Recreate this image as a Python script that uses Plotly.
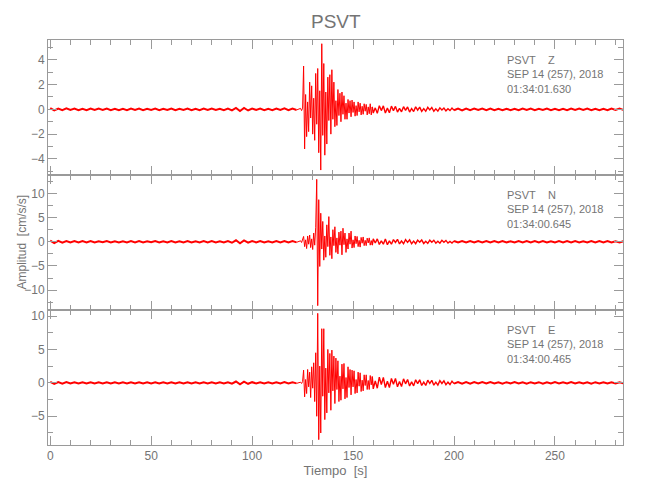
import numpy as np
import plotly.graph_objects as go
from plotly.subplots import make_subplots

# ---------------- data ----------------
title = "PSVT"
components = ["Z", "N", "E"]
dates = ["SEP 14 (257), 2018"] * 3
start_times = ["01:34:01.630", "01:34:00.645", "01:34:00.465"]

# sample times of the four segments (s)
t_pre = np.arange(0, 124, 2)       # quiet before the event
t_evt = np.arange(124, 160, 0.5)   # strong motion
t_coda = np.arange(160, 200, 1)    # coda
t_post = np.arange(200, 285, 2)    # quiet after

# Z component (cm/s/s)
z_pre = [0.1,-0.09,0.07,-0.06,0.08,-0.05,0.06,-0.07,0.05,-0.06,
         0.07,-0.05,0.06,-0.04,0.07,-0.06,0.05,-0.07,0.04,-0.06,
         0.06,-0.05,0.07,-0.06,0.05,-0.04,0.06,-0.07,0.05,-0.05,
         0.07,-0.06,0.04,-0.05,0.06,-0.07,0.05,-0.06,0.07,-0.05,
         0.06,-0.05,0.05,-0.07,0.06,-0.08,0.12,-0.13,0.12,-0.09,
         0.07,-0.05,0.06,-0.07,0.05,-0.06,0.07,-0.05,0.08,-0.07,
         0.06,-0.05]
z_evt = [0.08,-0.1,0.1,3.5,-3.2,1.2,-2.2,0.6,-1.8,2.2,
         -0.7,1.9,-2.0,0.9,-2.5,2.9,-1.2,3.3,-3.5,1.5,
         -4.9,5.3,-2.1,3.7,-3.7,1.4,-2.8,2.6,-0.9,2.8,
         -2.0,3.2,-0.8,2.2,-1.4,0.7,-1.3,1.6,-0.5,1.3,
         -1.0,1.4,-0.4,1.1,-0.8,0.5,-0.8,0.8,-0.3,0.7,
         -0.6,0.75,-0.25,0.6,-0.55,0.3,-0.5,0.6,-0.2,0.5,
         -0.45,0.25,-0.4,0.45,-0.15,0.4,-0.45,0.2,-0.35,0.45,
         -0.45,0.2]
z_coda = [-0.3,0.12,-0.32,0.3,-0.1,0.28,-0.3,0.1,-0.28,0.26,
          -0.1,0.24,-0.22,0.08,-0.2,0.22,-0.08,0.2,-0.22,0.07,
          -0.18,0.2,-0.06,0.18,-0.16,0.06,-0.15,0.16,-0.05,0.15,
          -0.15,0.05,-0.14,0.12,-0.05,0.11,-0.12,0.05,-0.1,0.1]
z_post = [-0.07,0.06,-0.08,0.07,-0.06,0.07,-0.05,0.06,-0.06,0.07,
          -0.06,0.05,-0.07,0.05,-0.06,0.05,-0.07,0.06,-0.05,0.07,
          -0.06,0.05,-0.05,0.06,-0.07,0.05,-0.06,0.05,-0.07,0.06,
          -0.05,0.06,-0.05,0.06,-0.07,0.05,-0.06,0.05,-0.06,0.07,
          -0.05,0.06,-0.05]

# N component
n_pre = [0.25,-0.28,0.2,-0.18,0.16,-0.15,0.13,-0.15,0.14,-0.12,
         0.15,-0.14,0.12,-0.11,0.14,-0.13,0.12,-0.15,0.11,-0.12,
         0.14,-0.12,0.15,-0.13,0.12,-0.11,0.13,-0.15,0.12,-0.12,
         0.15,-0.13,0.11,-0.12,0.14,-0.15,0.12,-0.13,0.15,-0.12,
         0.13,-0.12,0.12,-0.15,0.14,-0.2,0.3,-0.32,0.28,-0.2,
         0.15,-0.12,0.14,-0.15,0.12,-0.14,0.15,-0.12,0.17,-0.15,
         0.14,-0.12]
n_evt = [0.2,-0.15,0.3,1.1,-1.0,0.4,-1.4,1.2,-0.5,1.4,
         -1.2,0.6,-1.6,1.8,-0.7,3.0,12.9,-13.2,8.7,-5.1,
         5.9,-1.5,4.2,-3.8,1.2,-3.2,3.5,-1.0,5.2,-2.8,
         1.0,-3.5,2.5,-0.8,3.1,-2.2,0.8,-2.5,2.0,-0.7,
         2.2,-2.7,2.8,-0.6,1.8,-2.2,0.6,-1.5,1.8,-0.5,
         2.2,-1.3,0.4,-1.2,1.2,-0.4,1.1,-1.0,0.3,-1.1,
         0.9,-0.3,1.0,-0.8,0.3,-0.8,0.75,-0.25,0.8,-0.7,
         0.25,-0.7]
n_coda = [0.6,-0.25,0.6,-0.55,0.2,-0.5,0.55,-0.6,0.2,-0.5,
          0.45,-0.15,0.5,-0.45,0.15,-0.4,0.45,-0.12,0.4,-0.4,
          0.15,-0.4,0.35,-0.1,0.36,-0.35,0.12,-0.33,0.32,-0.1,
          0.32,-0.3,0.1,-0.3,0.3,-0.1,0.28,-0.27,0.08,-0.25]
n_post = [0.15,-0.14,0.16,-0.14,0.13,-0.15,0.14,-0.12,0.15,-0.14,
          0.14,-0.13,0.15,-0.14,0.12,-0.14,0.15,-0.13,0.14,-0.12,
          0.14,-0.15,0.13,-0.14,0.12,-0.14,0.15,-0.13,0.14,-0.12,
          0.14,-0.13,0.12,-0.14,0.15,-0.13,0.14,-0.12,0.14,-0.13,
          0.12,-0.14,0.13]

# E component
e_pre = [0.16,-0.17,0.12,-0.11,0.12,-0.1,0.09,-0.1,0.1,-0.08,
         0.1,-0.09,0.08,-0.08,0.1,-0.09,0.08,-0.1,0.08,-0.09,
         0.1,-0.09,0.1,-0.09,0.08,-0.08,0.09,-0.1,0.08,-0.09,
         0.1,-0.09,0.08,-0.09,0.1,-0.1,0.08,-0.09,0.1,-0.08,
         0.09,-0.08,0.08,-0.1,0.09,-0.13,0.2,-0.22,0.19,-0.14,
         0.1,-0.08,0.09,-0.1,0.08,-0.09,0.1,-0.08,0.11,-0.1,
         0.09,-0.08]
e_evt = [0.1,-0.1,0.2,1.9,-2.1,0.5,-1.6,2.0,-0.6,1.6,
         -2.2,2.4,-0.8,3.0,-2.8,4.5,-5.0,10.4,-8.5,2.5,
         -7.5,8.1,-2.0,8.1,-5.5,2.2,-4.5,5.0,-1.5,4.4,
         -4.1,4.9,-1.2,4.0,-3.1,3.7,-1.0,3.3,-2.8,1.0,
         -2.6,2.8,-0.9,2.9,-2.4,0.8,-2.2,2.4,-0.7,2.0,
         -1.8,1.9,-0.6,1.8,-1.6,0.5,-1.5,1.6,-0.5,1.5,
         -1.3,0.4,-1.2,1.2,-0.4,1.2,-1.0,0.35,-1.0,1.1,
         -0.3,0.95]
e_coda = [-0.9,0.3,-0.8,0.85,-0.25,0.8,-0.7,0.25,-0.7,0.65,
          -0.2,0.65,-0.6,0.2,-0.55,0.6,-0.15,0.5,-0.48,0.15,
          -0.45,0.45,-0.12,0.45,-0.4,0.12,-0.38,0.4,-0.1,0.38,
          -0.35,0.1,-0.33,0.32,-0.1,0.3,-0.28,0.1,-0.25,0.24]
e_post = [-0.12,0.11,-0.12,0.1,-0.11,0.12,-0.1,0.11,-0.09,0.11,
          -0.1,0.09,-0.11,0.1,-0.09,0.11,-0.1,0.09,-0.11,0.1,
          -0.09,0.1,-0.11,0.09,-0.1,0.11,-0.09,0.1,-0.09,0.11,
          -0.1,0.09,-0.1,0.09,-0.11,0.1,-0.09,0.1,-0.1,0.09,
          -0.1,0.09,-0.1]

x_ticks = [0, 50, 100, 150, 200, 250]
y_ranges = [[-5.3, 5.6], [-14.1, 13.8], [-9.3, 10.9]]
y_dticks = [2, 5, 5]
y_minor = [1, 2.5, 2.5]

# ---------------- figure ----------------
pre = [z_pre, n_pre, e_pre]
evt = [z_evt, n_evt, e_evt]
coda = [z_coda, n_coda, e_coda]
post = [z_post, n_post, e_post]

FONT = "Liberation Sans, Arial, sans-serif"
TXT = "#747474"
AX = "#9a9a9a"
RED = "#ff0000"

fig = make_subplots(rows=3, cols=1, shared_xaxes=True, vertical_spacing=0)
for i in range(3):
    segs = [
        (t_pre, pre[i], 2.0),
        (np.concatenate([t_pre[-1:], t_evt]),
         np.concatenate([pre[i][-1:], evt[i]]), 1.0),
        (np.concatenate([t_evt[-1:], t_coda, t_post[:1]]),
         np.concatenate([evt[i][-1:], coda[i], post[i][:1]]), 1.4),
        (t_post, post[i], 2.0),
    ]
    for tt, vv, w in segs:
        fig.add_trace(go.Scatter(x=tt, y=vv, mode="lines",
                                 line=dict(color=RED, width=w),
                                 showlegend=False, hoverinfo="skip"),
                      row=i + 1, col=1)

# page offset of the figure (default body margin of the html page)
OFF = 8
W, H = 650 - OFF, 500 - OFF
# plot area in page pixels: x 48..623, y 40..445
PX0, PX1, PY0, PY1 = 48, 623, 40, 445
ml, mt = PX0 - OFF, PY0 - OFF
mr, mb = W - (PX1 - OFF), H - (PY1 - OFF)
pw, ph = PX1 - PX0, PY1 - PY0

for i in range(3):
    fig.update_xaxes(row=i + 1, col=1,
                     range=[-1.1, 283.7], tickvals=x_ticks,
                     ticks="inside", ticklen=9, tickwidth=1, tickcolor=AX,
                     minor=dict(dtick=10, tick0=0, ticks="inside", ticklen=5,
                                tickcolor=AX, showgrid=False),
                     showline=True, linecolor=AX, linewidth=1, mirror="allticks",
                     showgrid=False, zeroline=False,
                     showticklabels=(i == 2),
                     tickfont=dict(family=FONT, size=12, color=TXT))
    fig.update_yaxes(row=i + 1, col=1,
                     range=y_ranges[i], dtick=y_dticks[i], tick0=0,
                     ticks="inside", ticklen=9, tickwidth=1, tickcolor=AX,
                     minor=dict(dtick=y_minor[i], tick0=0, ticks="inside",
                                ticklen=5, tickcolor=AX, showgrid=False),
                     showline=True, linecolor=AX, linewidth=1, mirror="allticks",
                     showgrid=False, zeroline=False,
                     tickfont=dict(family=FONT, size=12, color=TXT))

fig.update_xaxes(row=3, col=1, title=dict(text="Tiempo\u00a0\u00a0[s]",
                 font=dict(family=FONT, size=13, color=TXT), standoff=2))

def px_x(p):
    return (p - PX0) / pw

def px_y(p):
    return (PY1 - p) / ph

annos = []
panel_tops = [40, 175, 310]
for i in range(3):
    txt = "<br>".join(["PSVT\u00a0\u00a0\u00a0\u00a0" + components[i],
                       dates[i], start_times[i]])
    annos.append(dict(text=txt, xref="paper", yref="paper",
                      x=px_x(505), y=px_y(panel_tops[i] + 12),
                      xanchor="left", yanchor="top", align="left",
                      showarrow=False,
                      font=dict(family=FONT, size=11, color=TXT)))
annos.append(dict(text="Amplitud\u00a0\u00a0[cm/s/s]", xref="paper", yref="paper",
                  x=px_x(21), y=0.5, textangle=-90, showarrow=False,
                  xanchor="center", yanchor="middle",
                  font=dict(family=FONT, size=12, color=TXT)))
annos.append(dict(text=title, xref="paper", yref="paper",
                  x=0.5, y=px_y(22), showarrow=False,
                  xanchor="center", yanchor="middle",
                  font=dict(family=FONT, size=19, color=TXT)))

fig.update_layout(width=W, height=H, autosize=False,
                  margin=dict(l=ml, r=mr, t=mt, b=mb),
                  paper_bgcolor="white", plot_bgcolor="white",
                  annotations=annos)

fig.write_html("out.html")
